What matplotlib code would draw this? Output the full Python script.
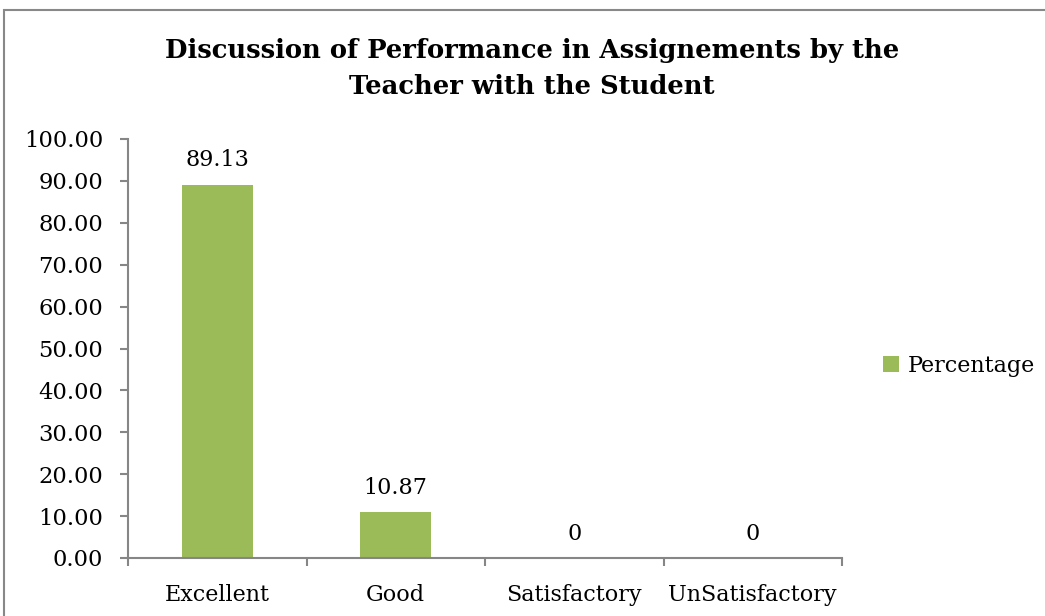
import matplotlib
matplotlib.use('Agg')
import matplotlib.pyplot as plt
from matplotlib.patches import Rectangle

plt.rcParams['font.family'] = ['DejaVu Serif']

categories = ['Excellent', 'Good', 'Satisfactory', 'UnSatisfactory']
percentage = [89.13, 10.87, 0, 0]
value_labels = ['89.13', '10.87', '0', '0']
yticks = [0, 10, 20, 30, 40, 50, 60, 70, 80, 90, 100]

bar_color = '#9bbb59'
axis_color = '#868686'

fig = plt.figure(figsize=(10.45, 6.16), dpi=100)
ax = fig.add_axes([128 / 1045, 58 / 616, 714 / 1045, 419 / 616])

x = range(len(categories))
bars = ax.bar(x, percentage, width=0.40, color=bar_color, label='Percentage')

for b, lab in zip(bars, value_labels):
    ax.annotate(lab, (b.get_x() + b.get_width() / 2, b.get_height()),
                xytext=(0, 9.5), textcoords='offset points',
                ha='center', va='bottom', fontsize=16)

ax.set_xlim(-0.5, len(categories) - 0.5)
ax.set_ylim(0, 100)
ax.set_yticks(yticks)
ax.set_yticklabels(['%.2f' % v for v in yticks], fontsize=16.3)

# category names centered, tick marks on category borders
ax.set_xticks(list(x))
ax.set_xticklabels(categories, fontsize=16)
ax.tick_params(axis='x', length=0, pad=19)
ax.set_xticks([i - 0.5 for i in range(len(categories) + 1)], minor=True)
ax.tick_params(axis='x', which='minor', length=6, width=1.5, color=axis_color, direction='out')
ax.tick_params(axis='y', length=6, width=1.5, color=axis_color, pad=12)

for s in ['top', 'right']:
    ax.spines[s].set_visible(False)
for s in ['left', 'bottom']:
    ax.spines[s].set_color(axis_color)
    ax.spines[s].set_linewidth(1.5)

leg = fig.legend(loc='center left', bbox_to_anchor=(863 / 1045, 1 - 366 / 616),
                 frameon=False, fontsize=16, handlelength=0.7, handleheight=0.7,
                 handletextpad=0.4)

fig.suptitle('Discussion of Performance in Assignements by the\nTeacher with the Student',
             x=532 / 1045, y=1 - 38 / 616, fontsize=18.6, fontweight='bold',
             va='top', linespacing=1.55)

fig.patches.append(Rectangle((4 / 1045, -0.1), 1.2, 1 - 10 / 616 + 0.1,
                             transform=fig.transFigure, fill=False,
                             edgecolor='#888888', linewidth=1.5))

plt.savefig('out.png', dpi=100)
